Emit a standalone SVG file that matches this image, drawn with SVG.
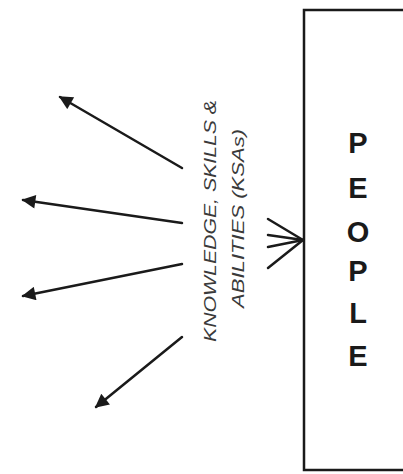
<svg xmlns="http://www.w3.org/2000/svg" width="403" height="474" viewBox="0 0 403 474">
<style>
.box{fill:#fff;stroke:#1a1a1a;stroke-width:2.5}
.ln{stroke:#1a1a1a;stroke-width:2.5;fill:none;stroke-linecap:round}
.ks{font-family:"Liberation Sans",Arial,sans-serif;font-style:italic;font-size:17px;fill:#3a3a3a}
.pp{font-family:"Liberation Sans",Arial,sans-serif;font-weight:bold;font-size:29px;fill:#1a1a1a;text-anchor:middle}
</style>
<defs>
<marker id="ah" viewBox="0 0 10 10" refX="9" refY="5" markerWidth="6.5" markerHeight="5.5" orient="auto" markerUnits="strokeWidth">
<path d="M0,0 L10,5 L0,10 Z" fill="#1a1a1a"/>
</marker>
</defs>
<rect width="403" height="474" fill="#fff"/>
<g id="people">
<rect class="box" x="304" y="10" width="110" height="460"/>
<text class="pp" x="358" y="153">P</text>
<text class="pp" x="358" y="198">E</text>
<text class="pp" x="358" y="242">O</text>
<text class="pp" x="358" y="281">P</text>
<text class="pp" x="358" y="323">L</text>
<text class="pp" x="358" y="366">E</text>
</g>
<g id="ksa-label">
<text class="ks" transform="translate(216,342) rotate(-90) scale(1.25,1)">KNOWLEDGE, SKILLS &amp;</text>
<text class="ks" transform="translate(244,308) rotate(-90) scale(1.3,1)">ABILITIES (KSAs)</text>
</g>
<g id="connectors">
<line class="ln" x1="182" y1="168" x2="60" y2="97" marker-end="url(#ah)"/>
<line class="ln" x1="182" y1="223" x2="23" y2="200" marker-end="url(#ah)"/>
<line class="ln" x1="182" y1="264" x2="23" y2="296" marker-end="url(#ah)"/>
<line class="ln" x1="182" y1="337" x2="96" y2="407" marker-end="url(#ah)"/>
<line class="ln" x1="268" y1="219" x2="303" y2="240"/>
<line class="ln" x1="268" y1="235" x2="303" y2="240"/>
<line class="ln" x1="268" y1="247" x2="303" y2="240"/>
<line class="ln" x1="268" y1="268" x2="303" y2="240"/>
</g>
</svg>
